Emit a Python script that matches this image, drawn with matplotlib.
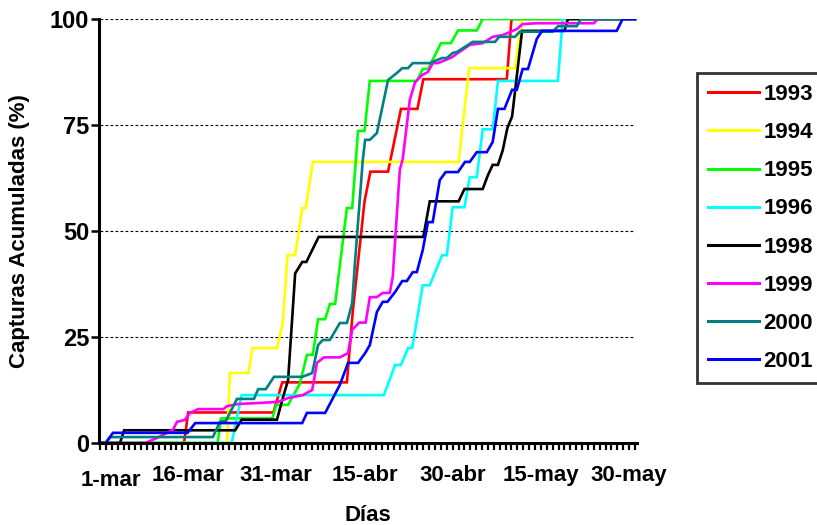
import matplotlib
matplotlib.use("Agg")
import matplotlib.pyplot as plt
from matplotlib.ticker import MultipleLocator
from matplotlib.transforms import ScaledTranslation

# day index 0 = 1-mar, values = cumulative captures (%)
days_1993 = [0, 14.3, 15.0, 29.5, 31.0, 42.0, 43.0, 45.0, 46.0, 49.0, 51.2, 54.0, 55.0, 69.2, 70.0, 91]
pct_1993 = [0, 0, 7.2, 7.2, 14.3, 14.3, 31.0, 57.0, 64.0, 64.0, 78.8, 78.8, 85.8, 85.8, 100, 100]

days_1994 = [0, 21.6, 22.1, 25.3, 25.9, 30.1, 31.1, 31.9, 33.2, 34.4, 35.0, 36.2, 61.0, 62.8, 70.6, 71.8, 91]
pct_1994 = [0, 0, 16.5, 16.5, 22.4, 22.4, 28.3, 44.3, 44.3, 55.4, 55.4, 66.3, 66.3, 88.4, 88.4, 100, 100]

days_1995 = [0, 20.0, 20.6, 29.3, 30.0, 32.0, 34.0, 35.2, 36.2, 37.1, 38.3, 39.1, 40.0, 42.0, 42.9,
             43.9, 45.0, 45.9, 53.9, 54.9, 55.8, 58.0, 59.7, 60.9, 64.1, 65.1, 91]
pct_1995 = [0, 0, 5.8, 5.8, 9.0, 9.0, 14.0, 20.8, 20.8, 29.2, 29.2, 32.8, 32.8, 55.4, 55.4,
            73.6, 73.6, 85.4, 85.4, 88.2, 88.2, 94.3, 94.3, 97.3, 97.3, 100, 100]

days_1996 = [0, 22.4, 24.1, 48.3, 50.2, 51.2, 52.4, 53.1, 54.9, 56.1, 58.2, 59.0, 60.0, 62.0, 62.9,
             64.1, 65.1, 66.8, 67.7, 77.9, 78.7, 91]
pct_1996 = [0, 0, 11.3, 11.3, 18.4, 18.4, 22.4, 22.4, 37.2, 37.2, 44.3, 44.3, 55.6, 55.6, 62.7,
            62.7, 74.0, 74.0, 85.4, 85.4, 100, 100]

days_1998 = [0, 3.4, 4.1, 23.0, 24.1, 30.1, 31.0, 32.0, 33.2, 34.4, 35.1, 37.2, 55.0, 56.1, 61.0,
             62.0, 65.1, 66.0, 66.8, 67.7, 68.5, 69.3, 70.1, 71.8, 79.0, 79.6, 91]
pct_1998 = [0, 0, 3.0, 3.0, 5.5, 5.5, 10.1, 14.9, 40.0, 42.7, 42.7, 48.6, 48.6, 57.0, 57.0,
            59.9, 59.9, 63.2, 65.6, 65.6, 69.0, 74.3, 77.0, 97.2, 97.2, 100, 100]

days_1999 = [0, 7.7, 9.7, 12.4, 13.1, 14.4, 15.3, 16.7, 21.0, 21.6, 23.5, 27.8, 30.3, 32.0, 34.5,
             36.1, 36.9, 38.1, 40.8, 42.2, 42.9, 44.1, 45.2, 45.9, 47.1, 48.1, 49.3, 49.8, 51.0,
             51.5, 52.7, 53.6, 54.8, 55.8, 56.6, 57.5, 58.7, 59.9, 60.9, 62.9, 65.1, 66.8, 68.5,
             70.9, 71.9, 74.3, 84.0, 84.7, 91]
pct_1999 = [0, 0, 1.2, 3.1, 5.0, 5.4, 7.1, 8.0, 8.0, 8.7, 9.2, 9.5, 9.7, 10.6, 11.3,
            12.5, 18.9, 20.2, 20.2, 21.2, 26.7, 28.4, 28.4, 34.4, 34.4, 35.4, 35.4, 39.2, 64.4,
            67.0, 80.9, 85.1, 86.8, 87.5, 89.6, 89.6, 90.3, 91.0, 92.0, 93.9, 94.3, 95.8, 96.2,
            97.6, 98.8, 99.0, 99.0, 100, 100]

days_2000 = [0, 0.9, 1.7, 19.2, 20.4, 21.4, 23.3, 26.2, 26.9, 28.2, 29.6, 34.4, 36.1, 37.1, 37.9,
             39.1, 40.8, 42.0, 42.9, 43.4, 44.7, 45.1, 45.9, 47.1, 49.0, 50.7, 51.4, 52.4, 53.2,
             56.1, 58.2, 59.0, 60.0, 60.7, 63.4, 67.2, 67.9, 70.6, 71.4, 77.0, 77.9, 81.1, 81.8, 91]
pct_2000 = [0, 0, 1.4, 1.4, 5.0, 5.2, 10.4, 10.4, 12.7, 12.7, 15.6, 15.6, 16.5, 23.1, 24.3,
            24.3, 28.3, 28.3, 33.0, 43.0, 66.7, 71.5, 71.5, 73.1, 85.6, 87.5, 88.4, 88.4, 89.6,
            89.6, 90.8, 90.8, 92.0, 92.2, 94.6, 94.6, 95.8, 95.8, 97.0, 97.0, 98.3, 98.3, 100, 100]

days_2001 = [0, 1.0, 2.2, 14.9, 16.2, 34.4, 35.2, 38.3, 40.8, 42.2, 43.9, 45.1, 45.9, 47.1, 48.1,
             48.9, 50.2, 51.4, 52.2, 53.2, 53.9, 54.9, 55.8, 56.6, 57.8, 58.8, 60.9, 62.1, 62.9,
             64.1, 65.8, 66.8, 67.7, 68.8, 70.1, 70.9, 71.9, 72.8, 74.3, 75.2, 87.9, 88.9, 91]
pct_2001 = [0, 0, 2.4, 2.4, 4.7, 4.7, 7.1, 7.1, 13.7, 18.9, 18.9, 21.2, 23.1, 30.9, 33.3,
            33.3, 35.6, 38.2, 38.2, 40.3, 40.3, 45.5, 52.1, 52.1, 62.0, 63.9, 63.9, 66.3, 66.3,
            68.6, 68.6, 71.0, 78.8, 78.8, 83.3, 83.3, 88.2, 88.2, 95.3, 97.2, 97.2, 100, 100]

years = ["1993", "1994", "1995", "1996", "1998", "1999", "2000", "2001"]
series_days = [days_1993, days_1994, days_1995, days_1996, days_1998, days_1999, days_2000, days_2001]
series_pct = [pct_1993, pct_1994, pct_1995, pct_1996, pct_1998, pct_1999, pct_2000, pct_2001]
colors = ["#FF0000", "#FFFF00", "#00FF00", "#00FFFF", "#000000", "#FF00FF", "#008080", "#0000FF"]

tick_days = [0, 15, 30, 45, 60, 75, 90]
tick_labels = ["1-mar", "16-mar", "31-mar", "15-abr", "30-abr", "15-may", "30-may"]
y_ticks = [0, 25, 50, 75, 100]

plt.rcParams["font.family"] = ["Liberation Sans", "DejaVu Sans"]
plt.rcParams["font.weight"] = "bold"

fig = plt.figure(figsize=(8.17, 5.25), dpi=100)
ax = fig.add_axes([99 / 817, 82 / 525, 538 / 817, 424 / 525])

for d, p, yr, c in zip(series_days, series_pct, years, colors):
    ax.plot(d, p, color=c, lw=1.9, label=yr, solid_joinstyle="miter")

ax.set_xlim(-0.17, 91.35)
ax.set_ylim(0, 100)

for y in y_ticks[1:]:
    ax.plot([0, 91], [y, y], color="black", lw=0.8, ls=(0, (2.5, 2)), zorder=0)

for s in ["top", "right"]:
    ax.spines[s].set_visible(False)
for s in ["left", "bottom"]:
    ax.spines[s].set_linewidth(2.2)

ax.set_yticks(y_ticks)
ax.set_yticklabels([str(v) for v in y_ticks], fontsize=17, fontweight="bold")
ax.tick_params(axis="y", direction="out", length=6, width=1.8, pad=1)

ax.set_xticks(tick_days)
ax.set_xticklabels(tick_labels, fontsize=16, fontweight="bold")
ax.xaxis.set_minor_locator(MultipleLocator(1))
ax.tick_params(axis="x", which="both", direction="out", length=5, width=1.6, pad=11)

# first date label sits a bit lower and to the right
lbl = ax.get_xticklabels()[0]
lbl.set_transform(lbl.get_transform() + ScaledTranslation(11 / 100, -5 / 100, fig.dpi_scale_trans))

ax.set_xlabel("Días", fontsize=16, fontweight="bold", labelpad=10)
ax.set_ylabel("Capturas Acumuladas (%)", fontsize=16, fontweight="bold", labelpad=14)

leg = fig.legend(loc="upper left", bbox_to_anchor=(697 / 817, 1 - 73 / 525), borderaxespad=0,
                 fancybox=False, frameon=True, prop={"size": 16, "weight": "bold"},
                 handlelength=2.3, handletextpad=0.2, labelspacing=0.77, borderpad=0.5)
leg.get_frame().set_edgecolor("black")
leg.get_frame().set_linewidth(2.0)
for h in leg.get_lines():
    h.set_linewidth(2.2)

fig.savefig("out.png", dpi=100)
